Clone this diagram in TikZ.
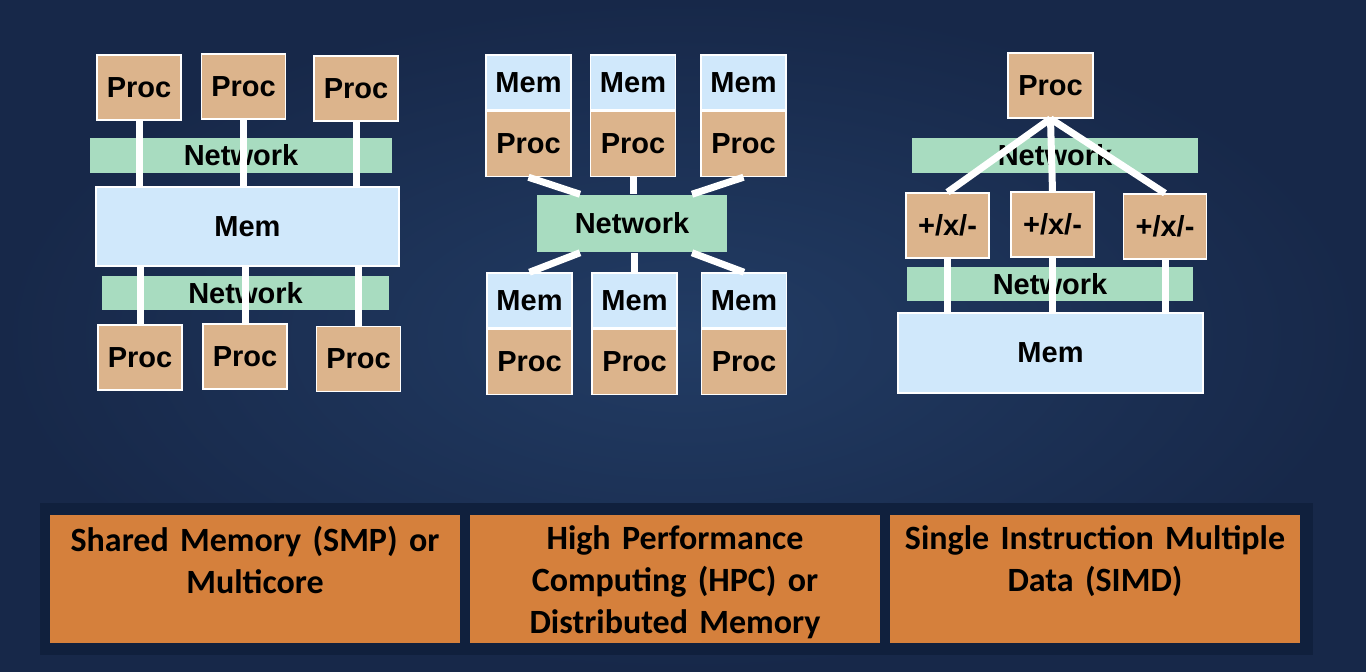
\documentclass[tikz,border=0pt]{standalone}
\usepackage{fontspec}
\newfontfamily\diagfont{Liberation Sans}
\newfontfamily\typefont{Carlito}
\usetikzlibrary{positioning,calc}

\definecolor{procc}{HTML}{DCB48C}
\definecolor{memc}{HTML}{D0E8FB}
\definecolor{netc}{HTML}{A8DCC0}
\definecolor{typec}{HTML}{D5803C}
\definecolor{bgin}{HTML}{223C64}
\definecolor{bgout}{HTML}{172849}
\definecolor{bandc}{HTML}{10203D}

\begin{document}
\begin{tikzpicture}[x=1pt,y=-1pt,
	box/.style={draw=white,line width=1.5pt,inner sep=0pt,font=\diagfont\bfseries\fontsize{29}{31}\selectfont},
	proc/.style={box,fill=procc,minimum width=84pt,minimum height=65pt},
	mem/.style={box,fill=memc},
	net/.style={box,draw=none,fill=netc},
	cell/.style={box,fill=memc,minimum width=85pt,minimum height=55pt},
	link/.style={draw=white,line width=7pt},
	type/.style={fill=typec,minimum width=410pt,minimum height=128pt,inner sep=0pt},
	typetext/.style={font=\typefont\bfseries\fontsize{34}{42}\selectfont,text width=405pt,align=center,inner sep=0pt}]
	
	% background
	\shade[inner color=bgin,outer color=bgout] (0,0) rectangle (1366,672);
	\useasboundingbox (0,0) rectangle (1366,672);
	
	% shared memory
	\node[net,minimum width=302pt,minimum height=35pt] (snet1) at (241,155.5) {Network};
	\node[net,minimum width=287pt,minimum height=34pt] (snet2) at (245.5,293) {Network};
	\node[mem,minimum width=303pt,minimum height=79pt] (smem) at (247.5,226.5) {Mem};
	\node[proc] (sp1) at (139,87.5) {Proc};
	\node[proc] (sp2) at (243.5,86.5) {Proc};
	\node[proc] (sp3) at (356,88.5) {Proc};
	\node[proc] (sp4) at (140,357.5) {Proc};
	\node[proc] (sp5) at (245,356.5) {Proc};
	\node[proc] (sp6) at (358.5,359) {Proc};
	
	\draw[link] (sp1.south) -- (sp1.south |- smem.north);
	\draw[link] (sp2.south) -- (sp2.south |- smem.north);
	\draw[link] (sp3.south) -- (sp3.south |- smem.north);
	\draw[link] (sp4.north) -- (sp4.north |- smem.south);
	\draw[link] (sp5.north) -- (sp5.north |- smem.south);
	\draw[link] (sp6.north) -- (sp6.north |- smem.south);
	
	% distributed memory
	\node[net,minimum width=190pt,minimum height=57pt] (dnet) at (632,223.5) {Network};
	\node[cell] (dm1) at (528.5,82.5) {Mem};
	\node[cell] (dm2) at (633,82.5) {Mem};
	\node[cell] (dm3) at (743.5,82.5) {Mem};
	\node[proc,minimum width=85pt,below=0pt of dm1] (dp1) {Proc};
	\node[proc,minimum width=85pt,below=0pt of dm2] (dp2) {Proc};
	\node[proc,minimum width=85pt,below=0pt of dm3] (dp3) {Proc};
	\node[cell] (dm4) at (529.5,300.5) {Mem};
	\node[cell] (dm5) at (634.5,300.5) {Mem};
	\node[cell] (dm6) at (744,300.5) {Mem};
	\node[proc,minimum width=85pt,below=0pt of dm4] (dp4) {Proc};
	\node[proc,minimum width=85pt,below=0pt of dm5] (dp5) {Proc};
	\node[proc,minimum width=85pt,below=0pt of dm6] (dp6) {Proc};
	
	\draw[link] (dp1.south) -- ($(dnet.north)+(-52,0)$);
	\draw[link] (dp2.south) -- (dp2.south |- dnet.north);
	\draw[link] (dp3.south) -- ($(dnet.north)+(60,0)$);
	\draw[link] (dm4.north) -- ($(dnet.south)+(-52,0)$);
	\draw[link] (dm5.north) -- (dm5.north |- dnet.south);
	\draw[link] (dm6.north) -- ($(dnet.south)+(60,0)$);
	
	% simd
	\node[net,minimum width=286pt,minimum height=35pt] (vnet1) at (1055,155.5) {Network};
	\node[net,minimum width=286pt,minimum height=34pt] (vnet2) at (1050,284) {Network};
	\node[proc,minimum width=85pt] (vp) at (1050.5,85.5) {Proc};
	\node[proc,minimum width=83pt] (op1) at (947.5,225.5) {+/x/-};
	\node[proc,minimum width=83pt] (op2) at (1052.5,224.5) {+/x/-};
	\node[proc,minimum width=83pt] (op3) at (1165,226.5) {+/x/-};
	\node[mem,minimum width=305pt,minimum height=80pt] (vmem) at (1050.5,353) {Mem};
	
	\draw[link] (vp.south) -- (op1.north);
	\draw[link] (vp.south) -- (op2.north);
	\draw[link] (vp.south) -- (op3.north);
	\draw[link] (op1.south) -- (op1.south |- vmem.north);
	\draw[link] (op2.south) -- (op2.south |- vmem.north);
	\draw[link] (op3.south) -- (op3.south |- vmem.north);
	
	% machine types
	\fill[bandc] (40,503) rectangle (1313,655);
	\node[type] (smp) at (255,579) {};
	\node[type] (hpc) at (675,579) {};
	\node[type] (simd) at (1095,579) {};
	\node[typetext,below=11pt of smp.north] (smptext) {Shared Memory (SMP) or\\Multicore};
	\node[typetext,below=11pt of hpc.north] (hpctext) {High Performance\\Computing (HPC) or\\Distributed Memory};
	\node[typetext,below=11pt of simd.north] (simdtext) {Single Instruction Multiple\\Data (SIMD)};
	
\end{tikzpicture}
\end{document}
